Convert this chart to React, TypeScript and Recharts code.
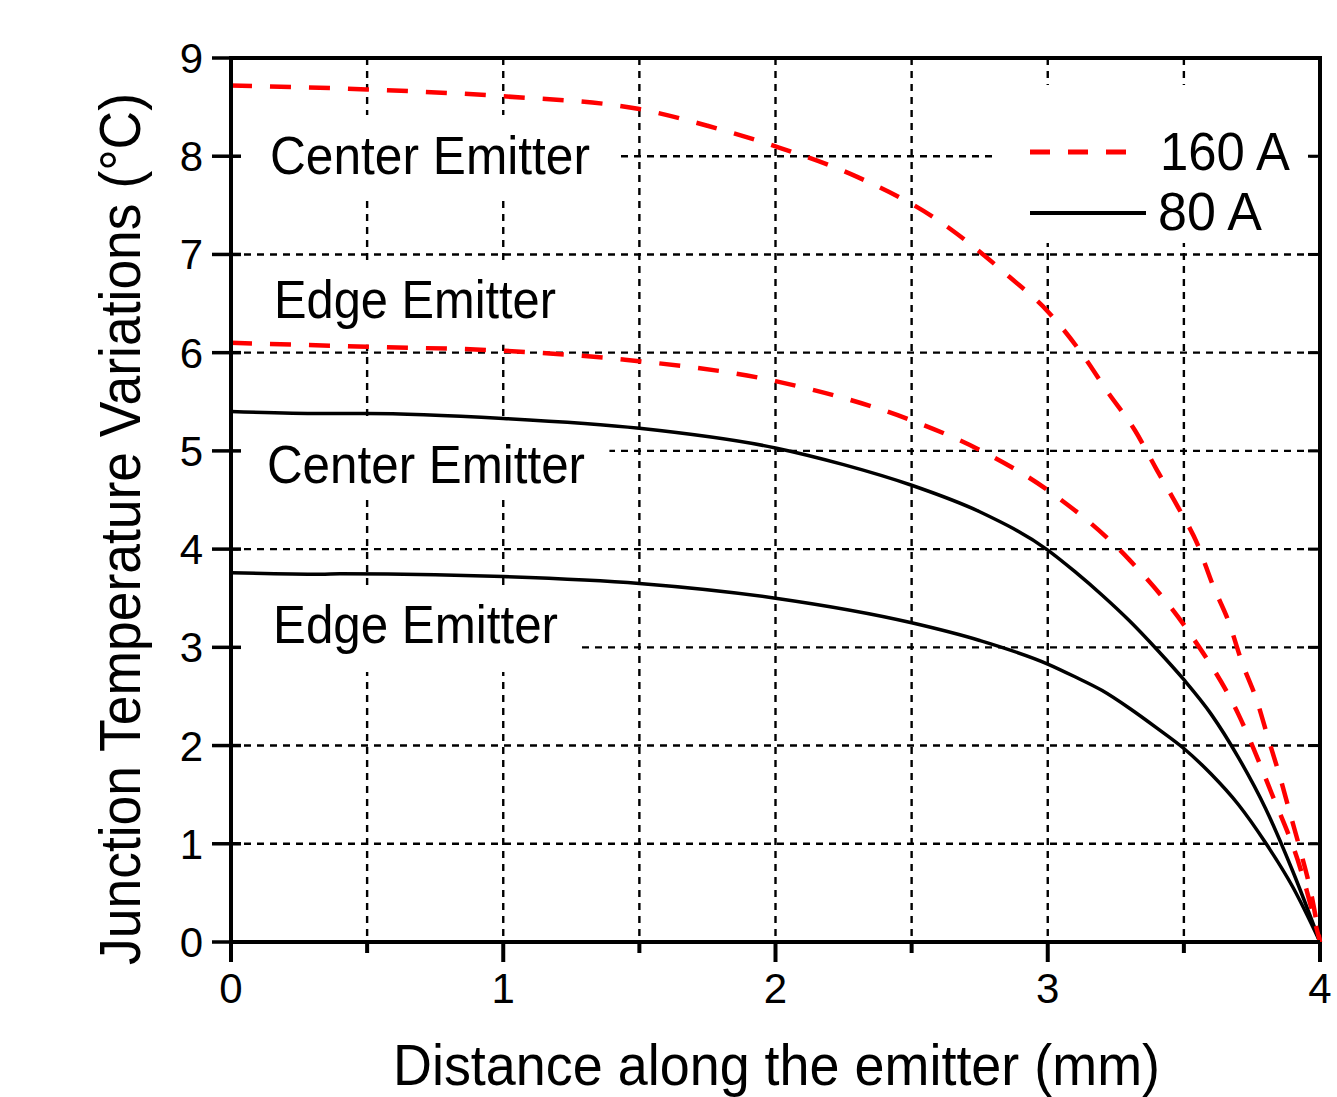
import React from "react";
import {
  LineChart,
  Line,
  XAxis,
  YAxis,
  CartesianGrid,
  ReferenceArea,
  ReferenceLine,
} from "recharts";

// 160 A, center emitter
const center160X = [0, 0.5, 1, 1.5, 1.75, 2, 2.3, 2.58, 2.86, 3.0, 3.12, 3.22, 3.32, 3.4, 3.48, 3.55, 3.607, 3.666, 3.713, 3.769, 3.809, 3.853, 3.893, 3.93, 3.967, 4];
const center160Y = [8.72, 8.68, 8.61, 8.48, 8.31, 8.1, 7.79, 7.38, 6.77, 6.42, 6.01, 5.6, 5.21, 4.81, 4.42, 4.05, 3.63, 3.25, 2.85, 2.45, 2.08, 1.68, 1.28, 0.91, 0.5, 0];

// 160 A, edge emitter
const edge160X = [0, 0.5, 1, 1.44, 2, 2.5, 2.75, 3, 3.3, 3.53, 3.7, 3.82, 3.93, 4];
const edge160Y = [6.1, 6.06, 6.02, 5.93, 5.71, 5.31, 5.01, 4.6, 3.89, 3.11, 2.32, 1.53, 0.73, 0];

// 80 A, center emitter
const center80X = [0, 0.33, 0.5, 1, 1.5, 2, 2.25, 2.5, 2.75, 3, 3.1, 3.2, 3.3, 3.4, 3.5, 3.6, 3.7, 3.8, 3.9, 4];
const center80Y = [5.4, 5.38, 5.38, 5.33, 5.23, 5.03, 4.86, 4.65, 4.38, 3.99, 3.77, 3.53, 3.27, 2.98, 2.67, 2.32, 1.88, 1.36, 0.72, 0];

// 80 A, edge emitter
const edge80X = [0, 0.33, 0.4, 0.75, 1, 1.5, 2, 2.5, 2.75, 3, 3.1, 3.2, 3.3, 3.4, 3.5, 3.6, 3.7, 3.8, 3.9, 4];
const edge80Y = [3.76, 3.745, 3.75, 3.74, 3.72, 3.65, 3.5, 3.25, 3.07, 2.83, 2.7, 2.56, 2.38, 2.18, 1.97, 1.71, 1.4, 1.01, 0.56, 0];

const xTicks = [0, 0.5, 1, 1.5, 2, 2.5, 3, 3.5, 4];
const yTicks = [0, 1, 2, 3, 4, 5, 6, 7, 8, 9];

const toPoints = (xs: number[], ys: number[]) =>
  xs.map((x, i) => ({ x, y: ys[i] }));

const FONT = "'Liberation Sans', Arial, sans-serif";

// white boxes behind the labels (data units)
const labelBoxes = [
  { x1: 0.037, x2: 1.42, y1: 7.585, y2: 8.42 },
  { x1: 0.015, x2: 1.355, y1: 6.08, y2: 6.92 },
  { x1: 0.007, x2: 1.39, y1: 4.5, y2: 5.335 },
  { x1: 0.007, x2: 1.28, y1: 2.75, y2: 3.635 },
  { x1: 2.806, x2: 3.956, y1: 7.117, y2: 8.725 },
];

const LeftTick = (props: any) => {
  const { x, y, payload } = props;
  return (
    <g>
      <line x1={x - 19} x2={x + 10} y1={y} y2={y} stroke="#000" strokeWidth={3.5} />
      <text x={x - 28} y={y + 15} textAnchor="end" fontSize={42} fontFamily={FONT} fill="#000">
        {payload.value}
      </text>
    </g>
  );
};

const BottomTick = (props: any) => {
  const { x, y, payload } = props;
  const major = Number.isInteger(payload.value);
  return (
    <g>
      <line x1={x} x2={x} y1={y} y2={y + (major ? 20 : 11)} stroke="#000" strokeWidth={4} />
      {major && (
        <text x={x} y={y + 61} textAnchor="middle" fontSize={42} fontFamily={FONT} fill="#000">
          {payload.value}
        </text>
      )}
    </g>
  );
};

export default function App() {
  return (
    <div style={{ position: "absolute", left: 0, top: 0, width: 1337, height: 1097, background: "#fff" }}>
      <LineChart
        width={1337}
        height={1097}
        margin={{ top: 58, right: 17, bottom: 55, left: 0 }}
      >
        <CartesianGrid stroke="#000" strokeWidth={2.4} strokeDasharray="7 6" />
        <XAxis
          dataKey="x"
          type="number"
          domain={[0, 4]}
          ticks={xTicks}
          height={100}
          tickSize={0}
          tickMargin={0}
          tickLine={false}
          axisLine={{ stroke: "#000", strokeWidth: 4 }}
          tick={<BottomTick />}
          interval={0}
        />
        <YAxis
          type="number"
          domain={[0, 9]}
          ticks={yTicks}
          width={231}
          tickSize={0}
          tickMargin={0}
          tickLine={false}
          axisLine={{ stroke: "#000", strokeWidth: 4 }}
          tick={<LeftTick />}
          interval={0}
        />
        {labelBoxes.map((b, i) => (
          <ReferenceArea
            key={i}
            x1={b.x1}
            x2={b.x2}
            y1={b.y1}
            y2={b.y2}
            fill="#fff"
            fillOpacity={1}
            stroke="none"
          />
        ))}
        {/* plot frame */}
        <ReferenceArea
          x1={0}
          x2={4}
          y1={0}
          y2={9}
          fill="none"
          stroke="#000"
          strokeWidth={4}
        />
        {/* inward ticks on the right frame */}
        {yTicks.map((v) => (
          <ReferenceLine
            key={"rt" + v}
            segment={[
              { x: 3.956, y: v },
              { x: 4, y: v },
            ]}
            stroke="#000"
            strokeWidth={3}
          />
        ))}
        <Line
          data={toPoints(edge80X, edge80Y)}
          dataKey="y"
          type="monotone"
          stroke="#000"
          strokeWidth={3.5}
          dot={false}
          isAnimationActive={false}
        />
        <Line
          data={toPoints(center80X, center80Y)}
          dataKey="y"
          type="monotone"
          stroke="#000"
          strokeWidth={3.5}
          dot={false}
          isAnimationActive={false}
        />
        <Line
          data={toPoints(edge160X, edge160Y)}
          dataKey="y"
          type="monotone"
          stroke="#ff0000"
          strokeWidth={4.5}
          strokeDasharray="21 18"
          dot={false}
          isAnimationActive={false}
        />
        <Line
          data={toPoints(center160X, center160Y)}
          dataKey="y"
          type="monotone"
          stroke="#ff0000"
          strokeWidth={4.5}
          strokeDasharray="21 18"
          dot={false}
          isAnimationActive={false}
        />
      </LineChart>
      <svg
        width={1337}
        height={1097}
        style={{ position: "absolute", left: 0, top: 0, pointerEvents: "none" }}
        fontFamily={FONT}
        fill="#000"
      >
        <text x={270} y={174} fontSize={54} textLength={320} lengthAdjust="spacingAndGlyphs">Center Emitter</text>
        <text x={274} y={318} fontSize={54} textLength={282} lengthAdjust="spacingAndGlyphs">Edge Emitter</text>
        <text x={267} y={483} fontSize={54} textLength={318} lengthAdjust="spacingAndGlyphs">Center Emitter</text>
        <text x={273} y={643} fontSize={54} textLength={285} lengthAdjust="spacingAndGlyphs">Edge Emitter</text>

        <line x1={1030} x2={1128} y1={152} y2={152} stroke="#ff0000" strokeWidth={5} strokeDasharray="20 18" />
        <text x={1160} y={170} fontSize={53} textLength={130} lengthAdjust="spacingAndGlyphs">160 A</text>
        <line x1={1030} x2={1146} y1={213} y2={213} stroke="#000" strokeWidth={4} />
        <text x={1158} y={230} fontSize={53} textLength={104} lengthAdjust="spacingAndGlyphs">80 A</text>

        <text x={393} y={1085} fontSize={57} textLength={767} lengthAdjust="spacingAndGlyphs">
          Distance along the emitter (mm)
        </text>
        <text
          transform="translate(140, 965) rotate(-90)"
          x={0}
          y={0}
          fontSize={58}
          textLength={872}
          lengthAdjust="spacingAndGlyphs"
        >
          Junction Temperature Variations (°C)
        </text>
      </svg>
    </div>
  );
}
